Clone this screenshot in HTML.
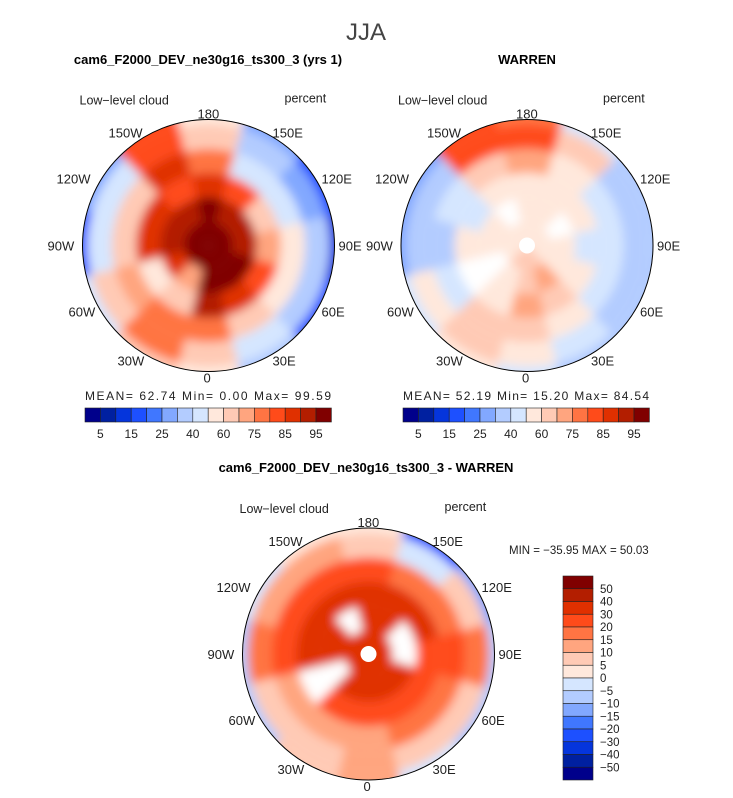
<!DOCTYPE html>
<html><head><meta charset="utf-8">
<style>
body{margin:0;background:#fff;}
svg{display:block;font-family:"Liberation Sans",sans-serif;}
</style></head>
<body>
<svg id="fig" width="733" height="798" viewBox="0 0 733 798" xmlns="http://www.w3.org/2000/svg">
<defs>
<filter id="blur" x="-10%" y="-10%" width="120%" height="120%"><feGaussianBlur stdDeviation="5"/></filter>
<clipPath id="c1"><circle cx="208.5" cy="245.5" r="126"/></clipPath>
<clipPath id="c2"><circle cx="527" cy="245.5" r="126"/></clipPath>
<clipPath id="c3"><circle cx="368.5" cy="654" r="126"/></clipPath>
</defs>
<text x="366" y="40" font-size="24" text-anchor="middle" fill="#444" font-weight="300">JJA</text>
<text x="208" y="64" font-size="13" font-weight="bold" text-anchor="middle">cam6_F2000_DEV_ne30g16_ts300_3 (yrs 1)</text>
<text x="527" y="64" font-size="13" font-weight="bold" text-anchor="middle">WARREN</text>
<text x="366" y="472" font-size="13" font-weight="bold" text-anchor="middle">cam6_F2000_DEV_ne30g16_ts300_3 - WARREN</text>
<g id="maps"></g>
<g id="labels" font-size="12" fill="#222"></g>
</svg>
<script>
// ---- data ----
const seqColors = ["#00008b","#0020a0","#0535dc","#1d50ff","#4077ff","#82a8ff","#b3ccff","#d5e6ff","#ffe8dc","#ffcab5","#ffa57f","#ff7443","#ff4b1a","#e03000","#b31e00","#800000"];
const seqLevels = [5,10,15,20,25,30,40,50,60,70,75,80,85,90,95];
const seqTickLabels = ["5","15","25","40","60","75","85","95"];
const diffLevels = [-50,-40,-30,-20,-15,-10,-5,0,5,10,15,20,30,40,50];
const diffTickLabels = ["50","40","30","20","15","10","5","0","\u22125","\u221210","\u221215","\u221220","\u221230","\u221240","\u221250"];
const sectorLons = [0,30,60,90,120,150,180,210,240,270,300,330];
// rings from pole outward, values per sector (percent)
const camRings = [
 [95,95,95,95,95,95,95,95,95,95,95,95],
 [95,95,95,90,90,90,95,90,90,90,85,70],
 [90,85,80,70,65,80,85,80,85,85,50,60],
 [75,60,55,55,45,45,75,85,60,60,70,75],
 [65,45,30,30,25,35,65,80,45,40,60,75],
 [50,30,15,10,15,25,55,80,25,15,45,60]];
const warrenRings = [
 [60,60,55,55,55,55,55,55,55,55,55,60],
 [60,70,55,55,null,55,55,null,50,50,null,55],
 [70,65,50,40,55,55,55,55,45,50,null,55],
 [65,55,45,40,40,55,70,60,40,35,45,60],
 [55,40,35,35,35,60,80,80,35,30,50,65],
 [45,35,30,30,30,45,75,80,25,25,40,55]];
const diffRings = [
 [30,30,30,30,30,30,30,30,30,30,30,30],
 [30,30,30,null,null,30,30,null,30,30,null,30],
 [20,20,20,20,30,30,30,30,30,30,null,20],
 [10,15,15,20,15,15,20,20,20,20,10,10],
 [10,5,5,15,5,-5,5,10,10,15,5,5],
 [10,-5,-10,-10,-15,-25,0,0,-5,-10,-10,5]];

const NS="http://www.w3.org/2000/svg";
function mk(tag,attrs,parent){const e=document.createElementNS(NS,tag);for(const k in attrs)e.setAttribute(k,attrs[k]);(parent||document.getElementById('maps')).appendChild(e);return e;}
function colorFor(v,levels){if(v===null)return "#fff";let i=0;while(i<levels.length&&v>=levels[i])i++;return seqColors[i];}
function pt(cx,cy,r,lonDeg){const a=lonDeg*Math.PI/180;return [cx+r*Math.sin(a),cy+r*Math.cos(a)];}

function drawMap(cx,cy,R,rings,levels,clip,name){
  const g=mk('g',{'clip-path':'url(#'+clip+')'});
  
  
  const inner=mk('g',{filter:'url(#blur)'},g);
  const nR=rings.length, dr=R*1.15/nR, half=15;
  rings.forEach((row,ri)=>{
    row.forEach((v,si)=>{
      const lon=sectorLons[si];
      const r0=ri*dr, r1=(ri+1)*dr+(ri===nR-1?20:0);
      const a=pt(cx,cy,r0,lon-half-1),b=pt(cx,cy,r1,lon-half-1),c=pt(cx,cy,r1,lon+half+1),d=pt(cx,cy,r0,lon+half+1);
      const p=mk('path',{d:`M${a}L${b}A${r1},${r1} 0 0 0 ${c}L${d}A${r0},${r0} 0 0 1 ${a}Z`,fill:colorFor(v,levels)},inner);
      
      
    });
  });
  if(name!=='cam-map'){
    const dot=mk('circle',{cx,cy,r:8,fill:'#fff'},g);
    
    
  }
  const o=mk('circle',{cx,cy,r:R,fill:'none',stroke:'#000','stroke-width':1});
  
  
}
drawMap(208.5,245.5,126,camRings,seqLevels,'c1','cam-map');
drawMap(527,245.5,126,warrenRings,seqLevels,'c2','warren-map');
drawMap(368.5,654,126,diffRings,diffLevels,'c3','diff-map');

const L=document.getElementById('labels');
function txt(x,y,s,name,anchor,size){const t=mk('text',{x,y,'text-anchor':anchor||'middle','font-size':size||12},L);t.textContent=s;return t;}
const lonLabs=[["180",-11,-127],["150W",-100,-108],["150E",64,-108],["120W",-152,-62],["120E",113,-62],["90W",-161,5],["90E",130,5],["60W",-140,71],["60E",113,71],["30W",-91,120],["30E",64,120],["0",-5,137]];
[[208.5,245.5],[527,245.5],[368.5,654]].forEach(([cx,cy])=>{
  lonLabs.forEach(l=>txt(cx+l[1],cy+l[2],l[0],'lon-label','start',13));
  txt(cx-129,cy-141,"Low\u2212level cloud",'variable-label','start',12.5);
  txt(cx+76,cy-143,"percent",'units-label','start',12.5);
});
txt(509,554,"MIN = \u221235.95 MAX =  50.03",'min-max-label','start',11.5);
const s1=txt(85,400,"MEAN=  62.74  Min=   0.00  Max=  99.59",'stats-label','start',12);
s1.setAttribute('textLength','246');
const s2=txt(403,400,"MEAN=  52.19  Min=  15.20  Max=  84.54",'stats-label','start',12);
s2.setAttribute('textLength','246');

// horizontal colorbars
[85,403].forEach(x0=>{
  const w=15.4;
  seqColors.forEach((c,i)=>{const r=mk('rect',{x:x0+i*w,y:408,width:w,height:14,fill:c,stroke:'#222','stroke-width':0.6},L);});
  seqTickLabels.forEach((s,i)=>txt(x0+w*(1+2*i),438,s,'colorbar-tick','middle',12));
});
// vertical colorbar
const vh=12.75;
seqColors.slice().reverse().forEach((c,i)=>{const r=mk('rect',{x:563,y:576+i*vh,width:30,height:vh,fill:c,stroke:'#222','stroke-width':0.6},L);});
diffTickLabels.forEach((s,i)=>txt(600,576+(i+1)*vh+4,s,'diff-colorbar-tick','start',11.5));
</script>
</body></html>
